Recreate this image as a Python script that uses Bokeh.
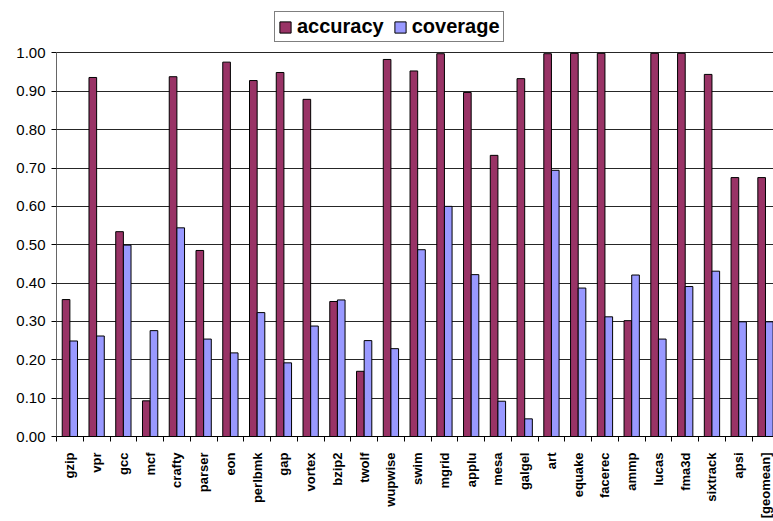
import math

from bokeh.embed import file_html
from bokeh.models import ColumnDataSource, FixedTicker, Legend, LegendItem, Range1d
from bokeh.plotting import figure
from bokeh.resources import INLINE
from bokeh.transform import dodge

benchmarks = [
    "gzip", "vpr", "gcc", "mcf", "crafty", "parser", "eon", "perlbmk", "gap",
    "vortex", "bzip2", "twolf", "wupwise", "swim", "mgrid", "applu", "mesa",
    "galgel", "art", "equake", "facerec", "ammp", "lucas", "fma3d", "sixtrack",
    "apsi", "[geomean]",
]
accuracy = [
    0.357, 0.936, 0.534, 0.093, 0.938, 0.485, 0.976, 0.928, 0.949,
    0.879, 0.352, 0.170, 0.983, 0.953, 0.998, 0.897, 0.733,
    0.933, 0.998, 0.999, 0.999, 0.302, 0.999, 0.999, 0.944,
    0.675, 0.675,
]
coverage = [
    0.249, 0.262, 0.499, 0.276, 0.544, 0.254, 0.218, 0.323, 0.192,
    0.288, 0.356, 0.250, 0.229, 0.487, 0.600, 0.422, 0.092,
    0.046, 0.694, 0.387, 0.312, 0.421, 0.254, 0.391, 0.431,
    0.299, 0.299,
]
y_ticks = [0.0, 0.1, 0.2, 0.3, 0.4, 0.5, 0.6, 0.7, 0.8, 0.9, 1.0]
y_tick_labels = ["0.00", "0.10", "0.20", "0.30", "0.40", "0.50",
                 "0.60", "0.70", "0.80", "0.90", "1.00"]
series_names = ["accuracy", "coverage"]
series_colors = ["#993366", "#9999FF"]

FONT = "Liberation Sans"
n = len(benchmarks)
centers = [i + 0.5 for i in range(n)]
bar_w = 1 / 3.5

src = ColumnDataSource(dict(x=centers, accuracy=accuracy, coverage=coverage))

# the frame runs up to the top edge so the legend can sit above the 1.00 line
p = figure(
    width=773, height=521,
    output_backend="svg", toolbar_location=None,
    x_range=Range1d(0, 26.8), y_range=Range1d(0, 1.1367),
    min_border_left=56, min_border_top=0, min_border_right=0,
    min_border_bottom=78,
)
p.outline_line_color = None
p.background_fill_color = "white"
p.border_fill_color = "white"

# gridlines at every 0.1
p.xgrid.visible = False
p.ygrid.ticker = FixedTicker(ticks=y_ticks)
p.ygrid.grid_line_color = "#000000"
p.ygrid.grid_line_alpha = 0.85
p.ygrid.grid_line_width = 1

r_acc = p.vbar(x=dodge("x", -bar_w / 2), top="accuracy", width=bar_w, bottom=0,
               source=src, fill_color=series_colors[0], line_color="black",
               line_width=1)
r_cov = p.vbar(x=dodge("x", bar_w / 2), top="coverage", width=bar_w, bottom=0,
               source=src, fill_color=series_colors[1], line_color="black",
               line_width=1)

# y axis
ya = p.yaxis[0]
ya.bounds = (0, 1)
ya.ticker = FixedTicker(ticks=y_ticks)
ya.major_label_overrides = dict(zip(y_ticks, y_tick_labels))
ya.major_label_text_font = FONT
ya.major_label_text_font_size = "15px"
ya.major_label_text_color = "black"
ya.major_label_standoff = 6
ya.major_tick_out = 5
ya.major_tick_in = 0
ya.minor_tick_out = 0
ya.minor_tick_in = 0
ya.major_tick_line_color = "black"
ya.axis_line_color = "#666666"

# x axis: category boundaries as minor ticks, names at category centres
xa = p.xaxis[0]
xa.ticker = FixedTicker(ticks=centers, minor_ticks=list(range(n + 1)))
xa.major_label_overrides = dict(zip(centers, benchmarks))
xa.major_label_orientation = math.pi / 2
xa.major_label_text_font = FONT
xa.major_label_text_font_style = "bold"
xa.major_label_text_font_size = "13px"
xa.major_label_text_color = "black"
xa.major_label_standoff = 11
xa.major_tick_out = 0
xa.major_tick_in = 0
xa.minor_tick_out = 5
xa.minor_tick_in = 0
xa.minor_tick_line_color = "black"
xa.axis_line_color = "black"

legend = Legend(
    items=[LegendItem(label=series_names[0], renderers=[r_acc]),
           LegendItem(label=series_names[1], renderers=[r_cov])],
    orientation="horizontal",
    location=(218, 394),
    margin=0, padding=3, spacing=9,
    glyph_width=14, glyph_height=14, label_standoff=5,
    label_text_font=FONT, label_text_font_style="bold",
    label_text_font_size="20px", label_text_color="black",
    border_line_color="black", border_line_width=1,
    background_fill_color="white", background_fill_alpha=1,
)
p.add_layout(legend)

open("out.html", "w").write(file_html(p, INLINE))
